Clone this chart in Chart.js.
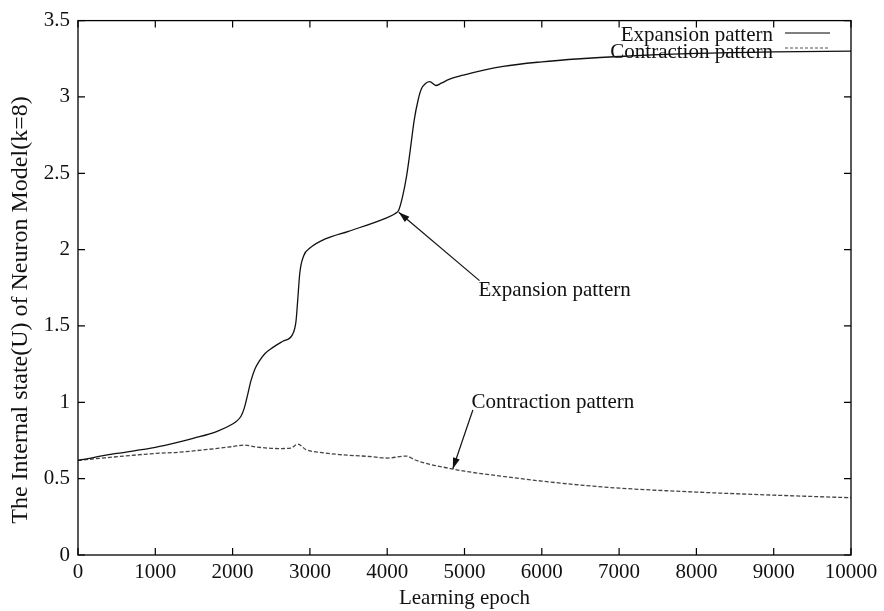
<!DOCTYPE html>
<html>
<head>
<meta charset="utf-8">
<script src="https://cdn.jsdelivr.net/npm/chart.js@4/dist/chart.umd.min.js"></script>
<style>
  html, body { margin: 0; padding: 0; background: #fff; }
  #wrap { width: 884px; height: 611px; position: relative; }
</style>
</head>
<body>
<div id="wrap"><canvas id="neuronChart"></canvas></div>
<script>
const expEpoch = [0, 500, 1000, 1300, 1500, 1800, 2000, 2060, 2110, 2150, 2190, 2237, 2290, 2345, 2420, 2517, 2650, 2776, 2820, 2841, 2870, 2920, 3000, 3200, 3500, 4000, 4100, 4150, 4200, 4250, 4290, 4350, 4400, 4440, 4500, 4550, 4630, 4700, 4800, 5000, 5500, 6000, 6500, 7000, 8000, 9000, 10000];
const expState = [0.62, 0.665, 0.705, 0.739, 0.765, 0.81, 0.858, 0.88, 0.91, 0.96, 1.04, 1.14, 1.22, 1.27, 1.32, 1.358, 1.40, 1.445, 1.53, 1.66, 1.85, 1.96, 2.01, 2.07, 2.12, 2.21, 2.235, 2.26, 2.35, 2.48, 2.62, 2.85, 2.98, 3.05, 3.09, 3.10, 3.075, 3.09, 3.115, 3.145, 3.20, 3.23, 3.25, 3.265, 3.285, 3.295, 3.30];

const conEpoch = [0, 1000, 1300, 2000, 2150, 2300, 2600, 2750, 2845, 2950, 3120, 3380, 3770, 4000, 4250, 4350, 4500, 4800, 5000, 5500, 6000, 6500, 7000, 8000, 9000, 10000];
const conState = [0.62, 0.665, 0.673, 0.71, 0.72, 0.708, 0.697, 0.70, 0.726, 0.69, 0.673, 0.658, 0.645, 0.635, 0.648, 0.625, 0.60, 0.568, 0.549, 0.515, 0.484, 0.458, 0.438, 0.412, 0.392, 0.375];

const xTicks = [0, 1000, 2000, 3000, 4000, 5000, 6000, 7000, 8000, 9000, 10000];
const yTicks = [0, 0.5, 1, 1.5, 2, 2.5, 3, 3.5];

const seriesNames = ["Expansion pattern", "Contraction pattern"];
const yTitle = "The Internal state(U) of Neuron Model(k=8)";

// annotation text + arrow, in data units: [textX, textY, tailX, tailY, headX, headY]
const noteExp = [5181, 1.695, 5194, 1.797, 4149, 2.245];
const noteCon = [5091, 0.965, 5108, 0.95, 4849, 0.565];

const FONT = "'Liberation Serif', 'Times New Roman', serif";

function pts(xs, ys) {
  return xs.map((x, i) => ({ x: x, y: ys[i] }));
}

const gnuplotBits = {
  id: "gnuplotBits",
  afterDatasetsDraw(chart) {
    const { ctx, chartArea: a, scales } = chart;
    const xs = scales.x, ys = scales.y;
    ctx.save();
    ctx.strokeStyle = "#000";
    ctx.lineWidth = 1.3;
    ctx.strokeRect(a.left, a.top, a.right - a.left, a.bottom - a.top);

    // inward ticks on all sides
    const tl = 7;
    ctx.lineWidth = 1.2;
    ctx.beginPath();
    xTicks.forEach(v => {
      const px = xs.getPixelForValue(v);
      ctx.moveTo(px, a.bottom); ctx.lineTo(px, a.bottom - tl);
      ctx.moveTo(px, a.top); ctx.lineTo(px, a.top + tl);
    });
    yTicks.forEach(v => {
      const py = ys.getPixelForValue(v);
      ctx.moveTo(a.left, py); ctx.lineTo(a.left + tl, py);
      ctx.moveTo(a.right, py); ctx.lineTo(a.right - tl, py);
    });
    ctx.stroke();

    // y axis title, a bit below the middle as in the original
    ctx.save();
    ctx.translate(21, 310);
    ctx.rotate(-Math.PI / 2);
    ctx.font = "24px " + FONT;
    ctx.fillStyle = "#111";
    ctx.textAlign = "center";
    ctx.textBaseline = "middle";
    ctx.fillText(yTitle, 0, 0);
    ctx.restore();

    // key, top right
    ctx.font = "21px " + FONT;
    ctx.fillStyle = "#111";
    ctx.textAlign = "right";
    ctx.textBaseline = "middle";
    ctx.fillText(seriesNames[0], 773, 35);
    ctx.fillText(seriesNames[1], 773, 52);
    ctx.strokeStyle = "#000";
    ctx.lineWidth = 1.1;
    ctx.beginPath(); ctx.moveTo(785, 33); ctx.lineTo(830, 33); ctx.stroke();
    ctx.strokeStyle = "#555";
    ctx.setLineDash([3, 2]);
    ctx.beginPath(); ctx.moveTo(785, 48); ctx.lineTo(830, 48); ctx.stroke();
    ctx.setLineDash([]);

    // labels with arrows
    [[noteExp, seriesNames[0]], [noteCon, seriesNames[1]]].forEach(([n, label]) => {
      const tx = xs.getPixelForValue(n[0]), ty = ys.getPixelForValue(n[1]);
      const x0 = xs.getPixelForValue(n[2]), y0 = ys.getPixelForValue(n[3]);
      const x1 = xs.getPixelForValue(n[4]), y1 = ys.getPixelForValue(n[5]);
      ctx.textAlign = "left";
      ctx.textBaseline = "alphabetic";
      ctx.fillStyle = "#111";
      ctx.fillText(label, tx, ty);
      ctx.strokeStyle = "#111";
      ctx.lineWidth = 1.2;
      ctx.beginPath(); ctx.moveTo(x0, y0); ctx.lineTo(x1, y1); ctx.stroke();
      const ang = Math.atan2(y1 - y0, x1 - x0);
      const hl = 11, hw = 3.5;
      ctx.beginPath();
      ctx.moveTo(x1, y1);
      ctx.lineTo(x1 - hl * Math.cos(ang) + hw * Math.sin(ang), y1 - hl * Math.sin(ang) - hw * Math.cos(ang));
      ctx.lineTo(x1 - hl * Math.cos(ang) - hw * Math.sin(ang), y1 - hl * Math.sin(ang) + hw * Math.cos(ang));
      ctx.closePath();
      ctx.fill();
    });
    ctx.restore();
  }
};

new Chart(document.getElementById("neuronChart"), {
  type: "line",
  data: {
    datasets: [
      {
        label: seriesNames[0],
        data: pts(expEpoch, expState),
        borderColor: "#111",
        borderWidth: 1.3,
        pointRadius: 0,
        cubicInterpolationMode: "monotone",
        fill: false,
      },
      {
        label: seriesNames[1],
        data: pts(conEpoch, conState),
        borderColor: "#444",
        borderWidth: 1.3,
        borderDash: [4, 2],
        pointRadius: 0,
        cubicInterpolationMode: "monotone",
        fill: false,
      },
    ],
  },
  options: {
    responsive: true,
    maintainAspectRatio: false,
    animation: false,
    layout: { padding: { top: 18, right: 33, bottom: 0, left: 0 } },
    scales: {
      x: {
        type: "linear",
        min: 0,
        max: 10000,
        afterBuildTicks: s => { s.ticks = xTicks.map(v => ({ value: v })); },
        afterFit: s => { s.height = 56; },
        grid: { display: false, drawTicks: false },
        border: { display: false },
        ticks: {
          color: "#111",
          padding: 5,
          maxRotation: 0,
          font: { family: FONT, size: 21 },
          callback: v => String(v),
        },
        title: {
          display: true,
          text: "Learning epoch",
          color: "#111",
          padding: { top: 0, bottom: 0 },
          font: { family: FONT, size: 21 },
        },
      },
      y: {
        min: 0,
        max: 3.5,
        afterBuildTicks: s => { s.ticks = yTicks.map(v => ({ value: v })); },
        afterFit: s => { s.width = 78; },
        grid: { display: false, drawTicks: false },
        border: { display: false },
        ticks: {
          color: "#111",
          padding: 8,
          font: { family: FONT, size: 21 },
          callback: v => String(v),
        },
      },
    },
    plugins: {
      legend: { display: false },
      tooltip: { enabled: false },
    },
  },
  plugins: [gnuplotBits],
});
</script>
</body>
</html>
